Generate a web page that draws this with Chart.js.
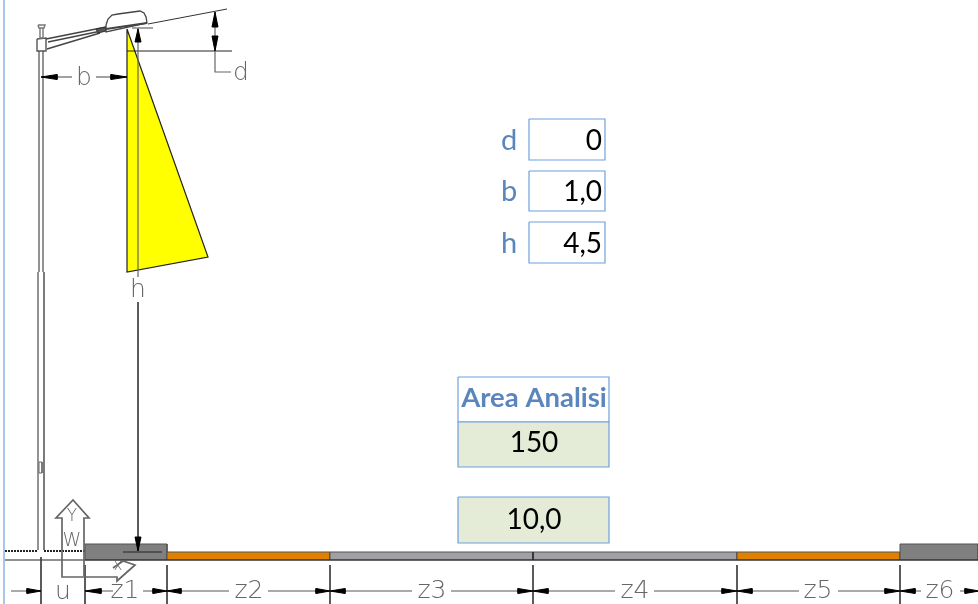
<!DOCTYPE html>
<html>
<head>
<meta charset="utf-8">
<title>Area Analisi</title>
<script src="https://cdn.jsdelivr.net/npm/chart.js@4/dist/chart.umd.min.js"></script>
<style>
  html, body { margin: 0; padding: 0; background: #fff; overflow: hidden; }
  canvas { display: block; }
</style>
</head>
<body>
<canvas id="sketch" width="978" height="604"></canvas>
<script>
// road cross section, values in drawing units (x to the right, y downwards)
const zoneNames = ["z1", "z2", "z3", "z4", "z5", "z6"];
const zoneEdges = [85, 167, 330, 533, 737, 900, 978];
const zoneColors = ["#808080", "#e08000", "#a0a0a5", "#a0a0a5", "#e08000", "#808080"];
const zoneTops = [544, 552, 552, 552, 552, 544];
const roadBottom = 560;
const zoneLabelX = [125, 249, 432, 635, 818, 940];

// input cells
const inputNames = ["d", "b", "h"];
const inputValues = ["0", "1,0", "4,5"];
const inputTops = [119, 171, 222];
const inputBottoms = [160, 211, 263];
const resultTitle = "Area Analisi";
const resultValues = ["150", "10,0"];

// lamp and pole outlines
const beam = [[127, 29], [127, 272], [208, 257], [127, 29]];
const lampBody = [[106, 25], [108, 19], [112, 15], [118, 14], [140, 11], [144, 13], [146, 17], [147, 23], [106, 32], [106, 25]];
const lampPlate = [[106, 29], [147, 23]];
const armTop = [[46, 39], [106, 27]];
const armMid = [[48, 42], [106, 30]];
const armLow = [[47, 49], [100, 33]];
const armJoint = [[96, 29], [106, 27], [106, 31], [98, 33], [96, 29]];
const poleHead = [[37, 39], [46, 38], [46, 51], [37, 51], [37, 39]];
const poleNeck = [[40, 28], [40, 38], [43, 38], [43, 28]];
const poleCap = [[38, 25], [45, 25], [44, 28], [39, 28], [38, 25]];
const poleUpperL = [[39, 51], [39, 272]];
const poleUpperR = [[43, 51], [43, 272]];
const poleLowerL = [[38, 272], [38, 550]];
const poleLowerR = [[44, 272], [44, 550]];
const poleSlot = [[39, 462], [42, 462], [42, 473], [39, 473], [39, 462]];

// dimension lines
const slopeLine = [[148, 24], [227, 9]];
const levelLine = [[127, 51], [232, 51]];
const shortLine = [[132, 28], [153, 28]];
const hLineTop = [[138, 28], [138, 277]];
const hLineLow = [[138, 302], [138, 551]];
const dLine = [[215, 12], [215, 72], [231, 72]];
const bLineLeft = [[41, 77], [72, 77]];
const bLineRight = [[96, 77], [127, 77]];
const dimY = 591;
const dimSegments = [[11, 41], [85, 113], [143, 229], [268, 412], [451, 615], [654, 799], [838, 921], [960, 978]];
const dimTicks = [[41, 557], [85, 565], [167, 565], [330, 565], [533, 565], [737, 565], [900, 565]];
const arrowsH = [[41, 27], [85, 101], [167, 153], [167, 181], [330, 316], [330, 345], [533, 518], [533, 548], [737, 722], [737, 752], [900, 885], [900, 915], [979, 965]];
const arrowsV = [[138, 29, 42], [138, 551, 537], [215, 12, 27], [215, 51, 36]];
const arrowsB = [[41, 57], [127, 111]];

// ground and axis marker
const groundLeft = [[5, 551], [38, 551]];
const groundRight = [[44, 551], [85, 551]];
const baseLine = [[5, 560], [978, 560]];
const kerbLine = [[123, 552], [162, 552]];
const axisMarker = [[84, 576], [84, 518], [89, 518], [73, 500], [56, 518], [62, 518], [62, 577], [117, 577], [117, 581], [135, 565], [123, 561], [113, 568]];
const pageEdge = [[4, 0], [4, 604]];

// text drawn through the scales: text, x, y, size
const cadText = ["b", "d", "h", "u", "Y", "W", "x"];
const cadTextX = [84, 241, 138, 63, 72, 72, 118];
const cadTextY = [78, 73, 290, 592, 517, 541, 566];
const cadTextSize = [25, 25, 25, 25, 17, 19, 15];

const datasets = [];
const CAD_GRAY = "#666666";
const CELL_BLUE = "#6f9fe0";
const LABEL_BLUE = "#5b86bd";
const CELL_GREEN = "#e4ebd6";

const addShape = (points, color, width, fillColor, dash) => {
  datasets.push({
    data: points,
    showLine: true,
    tension: 0,
    pointRadius: 0,
    borderColor: color,
    borderWidth: width,
    borderDash: dash || [],
    backgroundColor: fillColor || "transparent",
    fill: fillColor ? "shape" : false,
  });
};

const box = (x1, y1, x2, y2) => [[x1, y1], [x2, y1], [x2, y2], [x1, y2], [x1, y1]];

// road surface
zoneNames.forEach((name, i) => {
  addShape(box(zoneEdges[i], zoneTops[i], zoneEdges[i + 1], roadBottom), "#555555", 1, zoneColors[i]);
});
addShape([[533, 552], [533, 560]], "#333333", 1);
addShape(baseLine, "#222222", 1.2);
addShape(kerbLine, "#222222", 1);
addShape(groundLeft, "#222222", 1.8, null, [2, 1]);
addShape(groundRight, "#222222", 1.8, null, [2, 1]);

// pole and lamp
[poleUpperL, poleUpperR, poleLowerL].forEach((p) => addShape(p, "#888888", 1.8));
addShape(poleLowerR, "#444444", 1.4);
addShape(poleSlot, "#666666", 1);
addShape(poleHead, "#555555", 1.4);
addShape(poleNeck, "#777777", 1.4);
addShape(poleCap, "#777777", 1.4);
[armTop, armMid, armLow].forEach((p) => addShape(p, "#444444", 1.6));
addShape(armJoint, "#333333", 1, "#555555");
addShape(lampBody, "#444444", 1.3, "#ffffff");
addShape(lampPlate, "#444444", 2);

// light beam
addShape(beam, "#222222", 1.2, "#ffff00");

// dimension lines
addShape(slopeLine, "#333333", 1);
addShape(levelLine, "#222222", 1);
addShape(shortLine, CAD_GRAY, 1.2);
addShape(hLineTop, "#666666", 1.2);
addShape(hLineLow, "#444444", 1);
addShape(dLine, "#666666", 1.2);
addShape(bLineLeft, "#444444", 1);
addShape(bLineRight, "#444444", 1);
dimSegments.forEach((s) => addShape([[s[0], dimY], [s[1], dimY]], "#555555", 1));
dimTicks.forEach((t) => addShape([[t[0], t[1]], [t[0], 604]], "#444444", 1));
arrowsH.forEach((a) => addShape([[a[0], dimY], [a[1], dimY - 2.5], [a[1], dimY + 2.5], [a[0], dimY]], "#000000", 1, "#000000"));
arrowsB.forEach((a) => addShape([[a[0], 77], [a[1], 74.5], [a[1], 79.5], [a[0], 77]], "#000000", 1, "#000000"));
arrowsV.forEach((a) => addShape([[a[0], a[1]], [a[0] - 3, a[2]], [a[0] + 3, a[2]], [a[0], a[1]]], "#000000", 1, "#000000"));

// axis marker and page edge
addShape(axisMarker, CAD_GRAY, 1.7);
addShape(pageEdge, CELL_BLUE, 1.2);

// cells
inputNames.forEach((name, i) => {
  addShape(box(529, inputTops[i], 605, inputBottoms[i]), CELL_BLUE, 1.2, "#ffffff");
});
addShape(box(458, 377, 609, 422), CELL_BLUE, 1.2, "#ffffff");
addShape(box(458, 422, 609, 467), CELL_BLUE, 1.2, CELL_GREEN);
addShape(box(458, 497, 609, 543), CELL_BLUE, 1.2, CELL_GREEN);

// later shapes go on top
datasets.forEach((d, i) => { d.order = datasets.length - i; });

const textPlugin = {
  id: "sketchText",
  afterDraw(chart) {
    const { ctx, scales } = chart;
    const put = (text, x, y, font, color, align) => {
      ctx.font = font;
      ctx.fillStyle = color;
      ctx.textAlign = align;
      ctx.textBaseline = "middle";
      ctx.fillText(text, scales.x.getPixelForValue(x), scales.y.getPixelForValue(y));
    };
    ctx.save();
    cadText.forEach((t, i) => put(t, cadTextX[i], cadTextY[i], `200 ${cadTextSize[i]}px "DejaVu Sans"`, CAD_GRAY, "center"));
    zoneNames.forEach((t, i) => put(t, zoneLabelX[i], 591, '200 25px "DejaVu Sans"', CAD_GRAY, "center"));
    inputNames.forEach((t, i) => {
      const mid = (inputTops[i] + inputBottoms[i]) / 2 + 1;
      put(t, 509, mid, '29px Lato', LABEL_BLUE, "center");
      put(inputValues[i], 602, mid, '28px Lato', "#000000", "right");
    });
    put(resultTitle, 534, 398, 'bold 27.5px Lato', LABEL_BLUE, "center");
    put(resultValues[0], 534, 443, '28px Lato', "#000000", "center");
    put(resultValues[1], 534, 520, '28px Lato', "#000000", "center");
    ctx.restore();
  },
};

new Chart(document.getElementById("sketch"), {
  type: "scatter",
  data: { datasets },
  plugins: [textPlugin],
  options: {
    responsive: false,
    animation: false,
    layout: { padding: 0 },
    plugins: { legend: { display: false }, tooltip: { enabled: false } },
    scales: {
      x: { type: "linear", min: 0, max: 978, display: false },
      y: { type: "linear", min: 0, max: 604, reverse: true, display: false },
    },
  },
});
</script>
</body>
</html>
